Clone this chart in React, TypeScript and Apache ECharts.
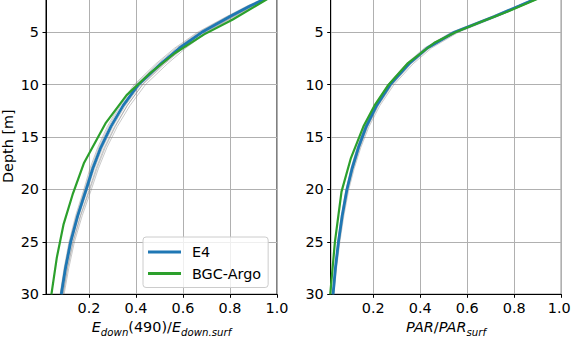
import React, { useEffect, useRef } from "react";
import * as echarts from "echarts";

// Depth grid (m) for the model lines
const depthsModel = [1.75, 2.5, 3.5, 5, 6.5, 8, 10, 12, 14, 16, 18, 20, 22.5, 25, 27.5, 30];

// Left panel: Edown(490)/Edown.surf
const e4Ed = [0.955, 0.885, 0.8, 0.68, 0.585, 0.505, 0.41, 0.345, 0.293, 0.25, 0.216, 0.188, 0.152, 0.122, 0.1, 0.082];
const argoEdDepths = [1.75, 3.8, 5.2, 7, 9, 11, 13.7, 17.5, 20.5, 23.3, 26.5, 30];
const argoEd = [0.965, 0.81, 0.69, 0.565, 0.455, 0.36, 0.27, 0.178, 0.13, 0.092, 0.063, 0.04];
const ensEd = [
  [0.96, 0.893, 0.812, 0.695, 0.602, 0.523, 0.428, 0.362, 0.309, 0.265, 0.23, 0.201, 0.163, 0.131, 0.108, 0.089],
  [0.95, 0.877, 0.79, 0.668, 0.572, 0.492, 0.398, 0.334, 0.284, 0.242, 0.209, 0.182, 0.147, 0.118, 0.097, 0.079],
  [0.965, 0.9, 0.82, 0.703, 0.612, 0.534, 0.44, 0.374, 0.32, 0.276, 0.24, 0.21, 0.171, 0.138, 0.114, 0.094],
  [0.945, 0.872, 0.785, 0.662, 0.565, 0.485, 0.392, 0.328, 0.278, 0.237, 0.204, 0.178, 0.143, 0.115, 0.094, 0.077],
  [0.958, 0.889, 0.806, 0.688, 0.594, 0.515, 0.42, 0.354, 0.301, 0.258, 0.223, 0.194, 0.157, 0.126, 0.103, 0.085],
  [0.962, 0.895, 0.815, 0.698, 0.6, 0.515, 0.415, 0.347, 0.294, 0.251, 0.217, 0.19, 0.154, 0.124, 0.102, 0.084],
  [0.952, 0.882, 0.8, 0.684, 0.594, 0.518, 0.427, 0.363, 0.312, 0.269, 0.234, 0.204, 0.165, 0.133, 0.109, 0.09],
];

// Right panel: PAR/PARsurf
const e4Par = [0.897, 0.82, 0.715, 0.545, 0.43, 0.352, 0.272, 0.214, 0.17, 0.137, 0.11, 0.088, 0.068, 0.052, 0.039, 0.029];
const argoParDepths = [1.75, 3, 4, 5, 6, 8, 10, 12, 14, 17, 20.2, 25, 30];
const argoPar = [0.905, 0.775, 0.66, 0.55, 0.46, 0.345, 0.265, 0.205, 0.158, 0.105, 0.065, 0.037, 0.017];
const ensPar = [
  [0.9, 0.825, 0.722, 0.555, 0.44, 0.362, 0.281, 0.222, 0.177, 0.143, 0.115, 0.092, 0.071, 0.055, 0.042, 0.031],
  [0.893, 0.815, 0.708, 0.538, 0.423, 0.345, 0.266, 0.209, 0.166, 0.134, 0.107, 0.086, 0.066, 0.05, 0.038, 0.028],
  [0.905, 0.83, 0.728, 0.562, 0.448, 0.37, 0.288, 0.228, 0.182, 0.147, 0.119, 0.096, 0.075, 0.058, 0.044, 0.033],
  [0.89, 0.81, 0.703, 0.532, 0.418, 0.34, 0.262, 0.206, 0.163, 0.131, 0.105, 0.084, 0.064, 0.049, 0.037, 0.027],
  [0.898, 0.822, 0.718, 0.55, 0.436, 0.358, 0.278, 0.219, 0.174, 0.14, 0.113, 0.09, 0.07, 0.054, 0.041, 0.03],
];

const depthTicks = [5, 10, 15, 20, 25, 30];
const ratioTicks = [0.2, 0.4, 0.6, 0.8, 1.0];

const FONT = "DejaVu Sans";
const BLUE = "#1f77b4";
const GREEN = "#2ca02c";

const pairs = (xs: number[], ds: number[]) => xs.map((v, i) => [v, ds[i]]);

export default function App() {
  const ref = useRef<HTMLDivElement>(null);
  useEffect(() => {
    if (!ref.current) return;
    const chart = echarts.init(ref.current, undefined, { renderer: "svg" });

    const yAxisBase = (gridIndex: number, withName: boolean) => ({
      type: "value",
      gridIndex,
      inverse: true,
      min: 1.73,
      max: 30,
      name: withName ? "Depth [m]" : "",
      nameLocation: "middle",
      nameGap: 31,
      nameTextStyle: { fontFamily: FONT, fontSize: 14.4, color: "#000" },
      axisLine: { show: true, lineStyle: { color: "#000", width: 1 } },
      axisTick: { show: true, length: 3.5, lineStyle: { color: "#000" }, customValues: depthTicks },
      axisLabel: {
        show: true,
        customValues: depthTicks,
        fontFamily: FONT,
        fontSize: 14.4,
        color: "#000",
        margin: 7,
      },
      splitLine: { show: true, lineStyle: { color: "#b0b0b0", width: 1 } },
    });

    const xAxisBase = (gridIndex: number, min: number, name: string, rich: any, lastPad: number) => ({
      type: "value",
      gridIndex,
      min,
      max: 1.0,
      name,
      nameLocation: "middle",
      nameGap: 22,
      nameTextStyle: { rich },
      axisLine: { show: true, onZero: false, lineStyle: { color: "#000", width: 1 } },
      axisTick: { show: true, length: 3.5, lineStyle: { color: "#000" }, customValues: ratioTicks },
      axisLabel: {
        show: true,
        customValues: ratioTicks,
        formatter: (v: number) => (v >= 0.999 ? "{r|" + v.toFixed(1) + "}" : "{t|" + v.toFixed(1) + "}"),
        rich: {
          t: { fontFamily: FONT, fontSize: 14.4, color: "#000" },
          r: { fontFamily: FONT, fontSize: 14.4, color: "#000", padding: [0, lastPad, 0, 0] },
        },
        fontFamily: FONT,
        fontSize: 14.4,
        color: "#000",
        margin: 7,
      },
      splitLine: { show: true, lineStyle: { color: "#b0b0b0", width: 1 } },
    });

    const rich = {
      i: { fontFamily: FONT, fontStyle: "italic", fontSize: 14.4, color: "#000", lineHeight: 20, verticalAlign: "middle" },
      n: { fontFamily: FONT, fontSize: 14.4, color: "#000", lineHeight: 20, verticalAlign: "middle" },
      s: { fontFamily: FONT, fontStyle: "italic", fontSize: 10.2, color: "#000", lineHeight: 11, verticalAlign: "bottom" },
    };

    const series: any[] = [];
    ensEd.forEach((m, k) =>
      series.push({
        type: "line",
        name: "ensEd" + k,
        xAxisIndex: 0,
        yAxisIndex: 0,
        data: pairs(m, depthsModel),
        symbol: "none",
        lineStyle: { color: "#7f7f7f", width: 1, opacity: 0.42 },
        z: 2,
      })
    );
    ensPar.forEach((m, k) =>
      series.push({
        type: "line",
        name: "ensPar" + k,
        xAxisIndex: 1,
        yAxisIndex: 1,
        data: pairs(m, depthsModel),
        symbol: "none",
        lineStyle: { color: "#7f7f7f", width: 1, opacity: 0.42 },
        z: 2,
      })
    );
    series.push(
      {
        type: "line",
        name: "E4",
        xAxisIndex: 0,
        yAxisIndex: 0,
        data: pairs(e4Ed, depthsModel),
        symbol: "none",
        lineStyle: { color: BLUE, width: 2.8 },
        itemStyle: { color: BLUE },
        z: 3,
      },
      {
        type: "line",
        name: "BGC-Argo",
        xAxisIndex: 0,
        yAxisIndex: 0,
        data: pairs(argoEd, argoEdDepths),
        symbol: "none",
        lineStyle: { color: GREEN, width: 2.2 },
        itemStyle: { color: GREEN },
        z: 4,
      },
      {
        type: "line",
        name: "E4",
        xAxisIndex: 1,
        yAxisIndex: 1,
        data: pairs(e4Par, depthsModel),
        symbol: "none",
        lineStyle: { color: BLUE, width: 2.8 },
        itemStyle: { color: BLUE },
        z: 3,
      },
      {
        type: "line",
        name: "BGC-Argo",
        xAxisIndex: 1,
        yAxisIndex: 1,
        data: pairs(argoPar, argoParDepths),
        symbol: "none",
        lineStyle: { color: GREEN, width: 2.2 },
        itemStyle: { color: GREEN },
        z: 4,
      }
    );

    chart.setOption({
      animation: false,
      backgroundColor: "#ffffff",
      grid: [
        { left: 46, top: -2, width: 231, height: 296.3, show: true, borderColor: "#000", borderWidth: 1, containLabel: false, outerBoundsMode: "none" },
        { left: 330.7, top: -2, width: 230.6, height: 296.3, show: true, borderColor: "#000", borderWidth: 1, containLabel: false, outerBoundsMode: "none" },
      ],
      xAxis: [
        xAxisBase(0, 0.017, "{i|E}{s|down}{n|(490)/}{i|E}{s|down.surf}", rich, 0),
        xAxisBase(1, 0.019, "{i|PAR}{n|/}{i|PAR}{s|surf}", rich, 4),
      ],
      yAxis: [yAxisBase(0, true), yAxisBase(1, false)],
      legend: {
        data: ["E4", "BGC-Argo"],
        orient: "vertical",
        left: 143,
        top: 237,
        icon: "rect",
        itemWidth: 33,
        itemHeight: 3,
        itemGap: 5.5,
        padding: [7, 7, 6, 5],
        backgroundColor: "rgba(255,255,255,0.8)",
        borderColor: "#cccccc",
        borderWidth: 1,
        borderRadius: 3,
        textStyle: { fontFamily: FONT, fontSize: 14.4, color: "#000", padding: [0, 0, 0, 6], lineHeight: 16 },
        selectedMode: false,
      },
      series,
    });
    return () => chart.dispose();
  }, []);
  return (
    <div
      ref={ref}
      style={{ position: "fixed", left: 0, top: 0, width: 571, height: 337, background: "#fff" }}
    />
  );
}
